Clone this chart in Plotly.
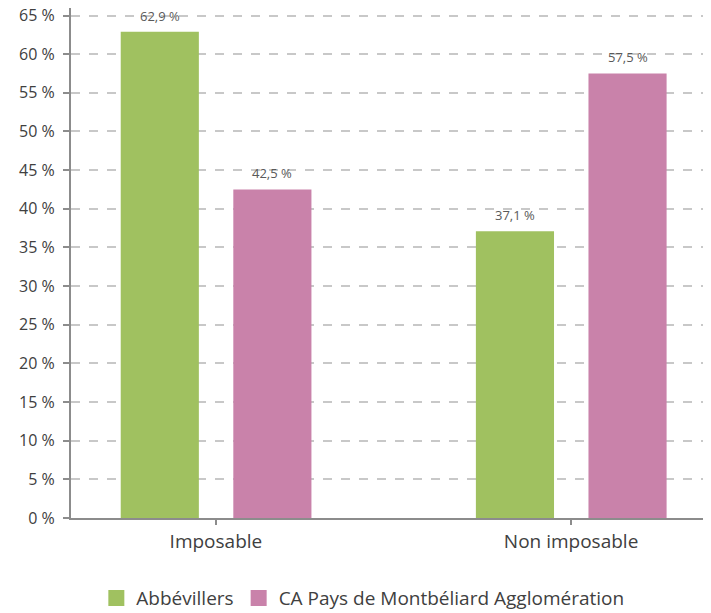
import plotly.graph_objects as go

categories = ["Imposable", "Non imposable"]
series_names = ["Abbévillers", "CA Pays de Montbéliard Agglomération"]
abbevillers = [62.9, 37.1]
ca_pays = [42.5, 57.5]
y_ticks = list(range(0, 70, 5))

colors = ["#a0c160", "#c982aa"]
offsets = [-0.268, 0.049]
bar_w = 0.22
values = [abbevillers, ca_pays]

def fmt(v):
    return f"{v:.1f}".replace(".", ",") + " %"

fig = go.Figure()
annotations = []
for name, vals, col, off in zip(series_names, values, colors, offsets):
    fig.add_trace(go.Bar(
        x=[0, 1], y=vals, name=name, marker_color=col, marker_line_width=0,
        width=bar_w, offset=off, showlegend=False,
    ))
    # legend-only swatch
    fig.add_trace(go.Scatter(
        x=[None], y=[None], mode="markers", name=name,
        marker=dict(symbol="square", size=22, color=col),
    ))
    for i, v in enumerate(vals):
        annotations.append(dict(
            x=i + off + bar_w / 2, y=v, xref="x", yref="y", text=fmt(v),
            showarrow=False, yanchor="bottom", yshift=5,
            font=dict(size=13, color="#595959", family="Open Sans"),
        ))

# page body has an 8px default margin; figure is sized to compensate
fig.update_layout(
    width=703, height=605,
    barmode="overlay",
    margin=dict(l=63, r=0, t=0, b=95, autoexpand=False),
    plot_bgcolor="white", paper_bgcolor="white",
    font=dict(family="Open Sans", color="#404040", size=16),
    showlegend=True,
    annotations=annotations,
    legend=dict(orientation="h", x=0.456, xanchor="center", y=-0.157, yanchor="middle",
                font=dict(size=19, color="#404040"), itemsizing="trace"),
    xaxis=dict(
        range=[-0.408, 1.394], tickmode="array", tickvals=[0, 1], ticktext=categories,
        showgrid=False, showline=True, linecolor="#8c8c8c", linewidth=2,
        ticks="outside", ticklen=5, tickcolor="#8c8c8c", tickwidth=2,
        tickfont=dict(size=19, color="#404040"), zeroline=False, automargin=False,
    ),
    yaxis=dict(
        range=[0, 65.97], tickmode="array", tickvals=y_ticks,
        ticktext=[f"{t} %" for t in y_ticks],
        showgrid=True, gridcolor="#c8c8c8", griddash="dash", gridwidth=1.5,
        showline=True, linecolor="#8c8c8c", linewidth=2,
        ticks="outside", ticklen=6, tickcolor="#8c8c8c", tickwidth=2,
        tickfont=dict(size=16, color="#404040"), zeroline=False, automargin=False,
        ticklabelstandoff=5, ticklabeloverflow="allow",
    ),
)

fig.write_html("out.html")
